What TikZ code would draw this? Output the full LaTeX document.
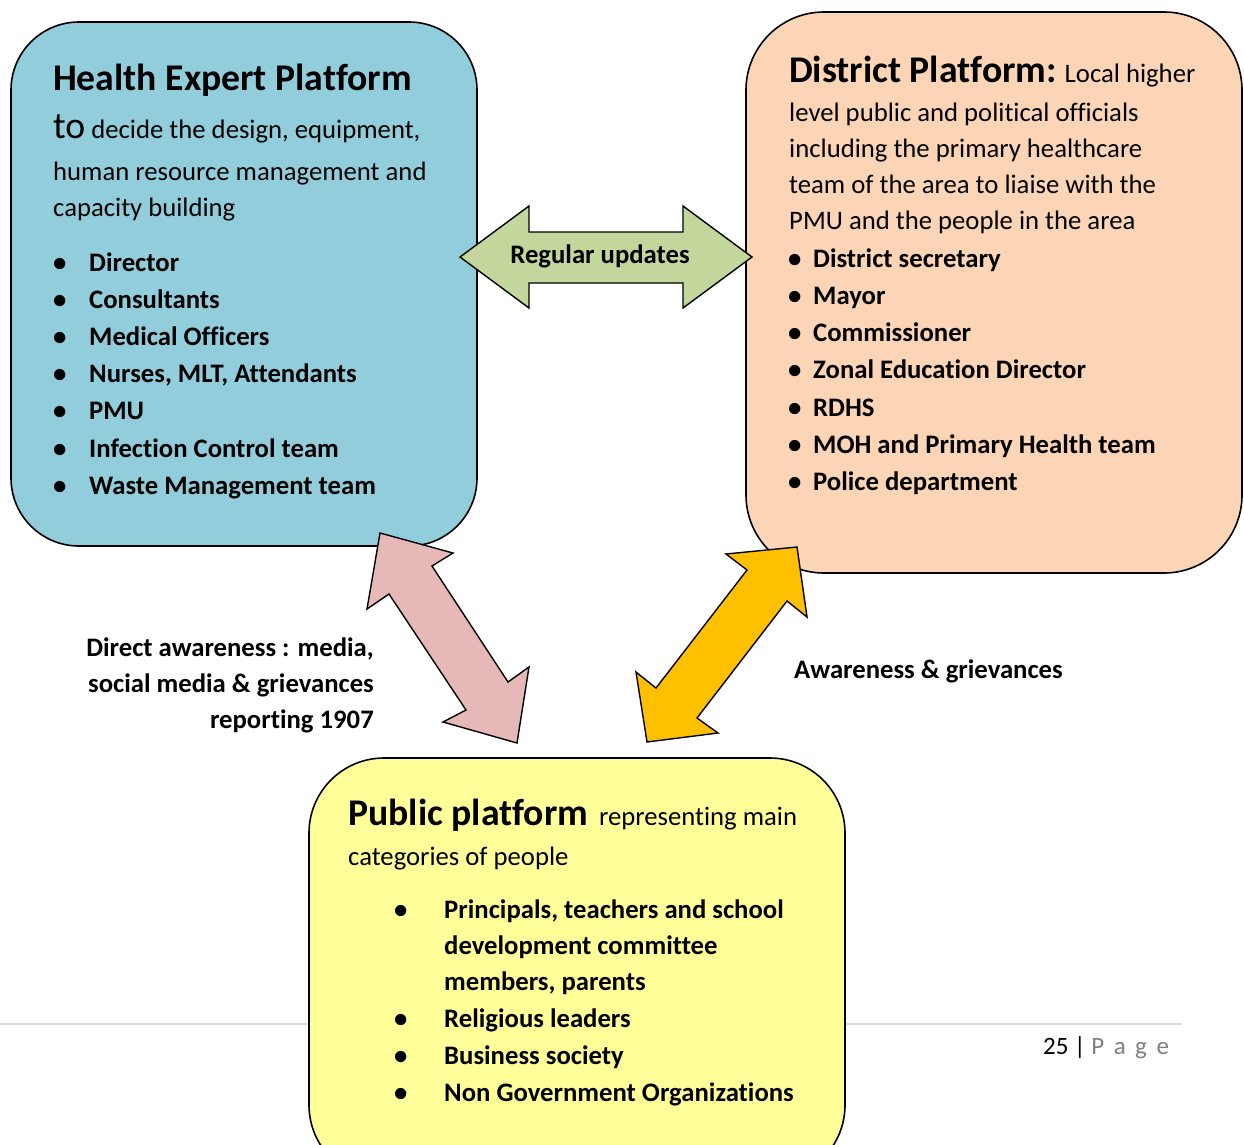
\documentclass[tikz,border=0pt]{standalone}
\usepackage{fontspec}
\setmainfont{Carlito}[Ligatures=NoCommon]
\definecolor{hepblue}{HTML}{92CDDC}
\definecolor{distpeach}{HTML}{FBD5B5}
\definecolor{pubyellow}{HTML}{FFFF99}
\definecolor{updgreen}{HTML}{C3D69B}
\definecolor{dirpink}{HTML}{E6B9B8}
\definecolor{awaorange}{HTML}{FFC000}
\definecolor{rulegray}{HTML}{D9D9D9}
\definecolor{pagegray}{HTML}{7F7F7F}
\tikzset{
  platbox/.style={draw=black, line width=1.6pt, inner sep=0pt},
  blockarrow/.style={draw=black, line width=1.4pt, line join=miter},
  txt/.style={inner sep=0pt, anchor=base west, font=\fontsize{26.7}{32}\selectfont},
  btxt/.style={inner sep=0pt, anchor=base west, font=\fontsize{26.7}{32}\selectfont\bfseries},
  rbtxt/.style={inner sep=0pt, anchor=base east, font=\fontsize{26.7}{32}\selectfont\bfseries},
  bigt/.style={font=\fontsize{37.7}{44}\selectfont\bfseries},
}
\newcommand\bigfnt{\fontsize{37.7}{44}\selectfont}
\begin{document}
\begin{tikzpicture}[x=1pt,y=-1pt]
\useasboundingbox (0,0) rectangle (1244,1144);
\clip (0,0) rectangle (1244,1144);

% page rule (behind yellow box)
\coordinate (ruleL) at (0,1024);
\coordinate (ruleR) at (1182,1024);
\draw[rulegray, line width=1.5pt] (ruleL) -- (ruleR);

% boxes
\node[platbox, fill=hepblue, rounded corners=68pt, minimum width=466pt, minimum height=524pt] (hep) at (244,284) {};
\node[platbox, fill=distpeach, rounded corners=78pt, minimum width=496pt, minimum height=561pt] (dist) at (994,292.5) {};
\node[platbox, fill=pubyellow, rounded corners=75pt, minimum width=536pt, minimum height=422pt] (pub) at (577,969) {};

% block arrows
\draw[blockarrow, fill=updgreen] (460,257) -- (529,206) -- (529,232) -- (683,232) -- (683,206) -- (752,257) -- (683,308) -- (683,283) -- (529,283) -- (529,308) -- cycle;
\draw[blockarrow, fill=dirpink] (380,533) -- (453,553) -- (432,566) -- (508,682) -- (529,667) -- (517,743) -- (443,722) -- (466,710) -- (389,594) -- (367,609) -- cycle;
\draw[blockarrow, fill=awaorange] (797,547) -- (807,617) -- (787,601) -- (697,718) -- (718,733) -- (647,742) -- (636,672) -- (656,688) -- (747,570) -- (726,554) -- cycle;

% Health Expert Platform text
\node[inner sep=0pt, anchor=base west, bigt] (hT) at (53,90) {Health Expert Platform};
\node[txt] (hL1) at (53,138) {{\bigfnt to} decide the design, equipment,};
\node[txt] (hL2) at (53,180) {human resource management and};
\node[txt] (hL3) at (53,216) {capacity building};
\foreach \t [count=\i] in {Director,Consultants,Medical Officers,{Nurses, MLT, Attendants},PMU,Infection Control team,Waste Management team}{
  \node[btxt] (hbul\i) at (53,{271+37.2*(\i-1)}) {\textbullet};
  \node[btxt] (hitem\i) at (89,{271+37.2*(\i-1)}) {\t};
}

% District Platform text
\node[txt] (dT) at (789,82) {{\bigfnt\bfseries District Platform:} Local higher};
\node[txt] (dL1) at (789,121) {level public and political officials};
\node[txt] (dL2) at (789,157) {including the primary healthcare};
\node[txt] (dL3) at (789,193) {team of the area to liaise with the};
\node[txt] (dL4) at (789,229) {PMU and the people in the area};
\foreach \t [count=\i] in {District secretary,Mayor,Commissioner,Zonal Education Director,RDHS,MOH and Primary Health team,Police department}{
  \node[btxt] (dbul\i) at (788,{267+37.33*(\i-1)}) {\textbullet};
  \node[btxt] (ditem\i) at (813,{267+37.33*(\i-1)}) {\t};
}

% Public platform text
\node[txt] (pT) at (348,825) {{\bigfnt\bfseries Public platform}\hspace{11pt}representing main};
\node[txt] (pL1) at (348,865) {categories of people};
\node[btxt] (pbul1) at (394,918) {\textbullet};
\node[btxt] (pitem1) at (444,918) {Principals, teachers and school};
\node[btxt] (pitem1b) at (444,954) {development committee};
\node[btxt] (pitem1c) at (444,990) {members, parents};
\node[btxt] (pbul2) at (394,1027) {\textbullet};
\node[btxt] (pitem2) at (444,1027) {Religious leaders};
\node[btxt] (pbul3) at (394,1064) {\textbullet};
\node[btxt] (pitem3) at (444,1064) {Business society};
\node[btxt] (pbul4) at (394,1101) {\textbullet};
\node[btxt] (pitem4) at (444,1101) {Non Government Organizations};

% arrow labels
\node[inner sep=0pt, anchor=base, font=\fontsize{26.7}{32}\selectfont\bfseries] (updlbl) at (600,263) {Regular updates};
\node[rbtxt] (dirl1) at (374,656) {Direct awareness : media,};
\node[rbtxt] (dirl2) at (374,692) {social media \& grievances};
\node[rbtxt] (dirl3) at (374,728) {reporting 1907};
\node[btxt] (awal) at (794,678) {Awareness \& grievances};

% page number
\node[txt, font=\fontsize{25}{30}\selectfont] (pgno) at (1043,1054) {25 | \textcolor{pagegray}{P\hspace{9.5pt}a\hspace{9.5pt}g\hspace{9.5pt}e}};
\end{tikzpicture}
\end{document}
